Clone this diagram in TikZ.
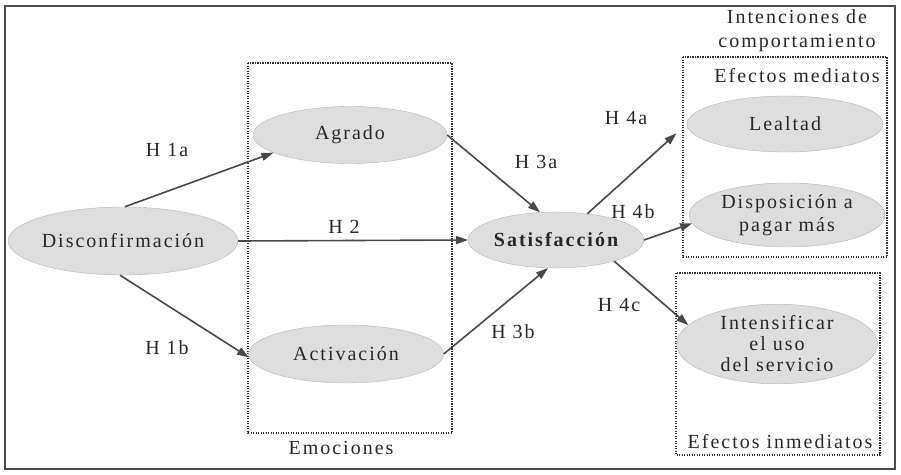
\documentclass[tikz,border=0pt]{standalone}
\usepackage{fontspec}
\setmainfont{Liberation Serif}[LetterSpace=10]
\usetikzlibrary{shapes.geometric,arrows.meta}
\definecolor{ellfill}{RGB}{222,222,222}
\definecolor{ellline}{RGB}{180,180,180}
\definecolor{txtcol}{RGB}{40,40,40}
\definecolor{arrcol}{RGB}{72,72,72}

\begin{document}
\begin{tikzpicture}[x=1pt,y=-1pt,
    every node/.style={font=\fontsize{20}{22}\selectfont, text=txtcol},
    ell/.style={ellipse, draw=ellline, fill=ellfill, inner sep=0pt, align=center},
    arr/.style={draw=arrcol, line width=1.6pt, -{Triangle[length=12pt,width=8pt]}},
    dotbox/.style={draw=arrcol!70!black, line width=1.3pt, dash pattern=on 1.3pt off 1.2pt}]
    \useasboundingbox (0,0) rectangle (901,474);
    \draw[line width=1.6pt, draw=gray!60!black] (5,6) rectangle (895,469);
    \draw[dotbox] (248,63) rectangle (452,433);
    \draw[dotbox] (683,57) rectangle (887,257);
    \draw[dotbox] (676,273) rectangle (880,455);

    \node[ell, minimum width=202pt, minimum height=68pt] (dis) at (123,241) {Disconfirmación};
    \node[ell, minimum width=194pt, minimum height=57pt] (agr) at (350,135) {Agrado};
    \node[ell, minimum width=195pt, minimum height=58pt] (act) at (346,354) {Activación};
    \node[ell, minimum width=168pt, minimum height=56pt, font=\fontsize{20}{22}\selectfont\bfseries] (sat) at (556,240) {Satisfacción};
    \node[ell, minimum width=196pt, minimum height=56pt] (lea) at (785,124) {Lealtad};
    \node[ell, minimum width=196pt, minimum height=64pt, font=\fontsize{20}{23}\selectfont] (dsp) at (787,215) {Disposición a\\pagar más};
    \node[ell, minimum width=201pt, minimum height=77pt, font=\fontsize{20}{21}\selectfont] (int) at (777,344) {Intensificar\\el uso\\del servicio};

    \node (emo) at (341,448) {Emociones};
    \node[align=center, anchor=north, inner sep=0pt, font=\fontsize{20}{24}\selectfont] (inten) at (797,9) {Intenciones de\\comportamiento};
    \node (med) at (797,76) {Efectos mediatos};
    \node (inm) at (780,442) {Efectos inmediatos};

    \draw[arr] (dis.87) -- (agr.193);
    \draw[arr] (dis.265) -- (act.182);
    \draw[arr] (dis.east) -- (sat.west);
    \draw[arr] (agr.east) -- (sat.120);
    \draw[arr] (act.east) -- (sat.254);
    \draw[arr, shorten >=14pt] (sat.40) -- (lea.west);
    \draw[arr] (sat.east) -- (dsp.185);
    \draw[arr] (sat.-20) -- (int.168);

    \node (h1a) at (167,150) {H 1a};
    \node (h1b) at (167,348) {H 1b};
    \node (h2) at (344,227) {H 2};
    \node (h3a) at (536,162) {H 3a};
    \node (h3b) at (513,332) {H 3b};
    \node (h4a) at (626,118) {H 4a};
    \node (h4b) at (633,212) {H 4b};
    \node (h4c) at (619,305) {H 4c};
\end{tikzpicture}
\end{document}
